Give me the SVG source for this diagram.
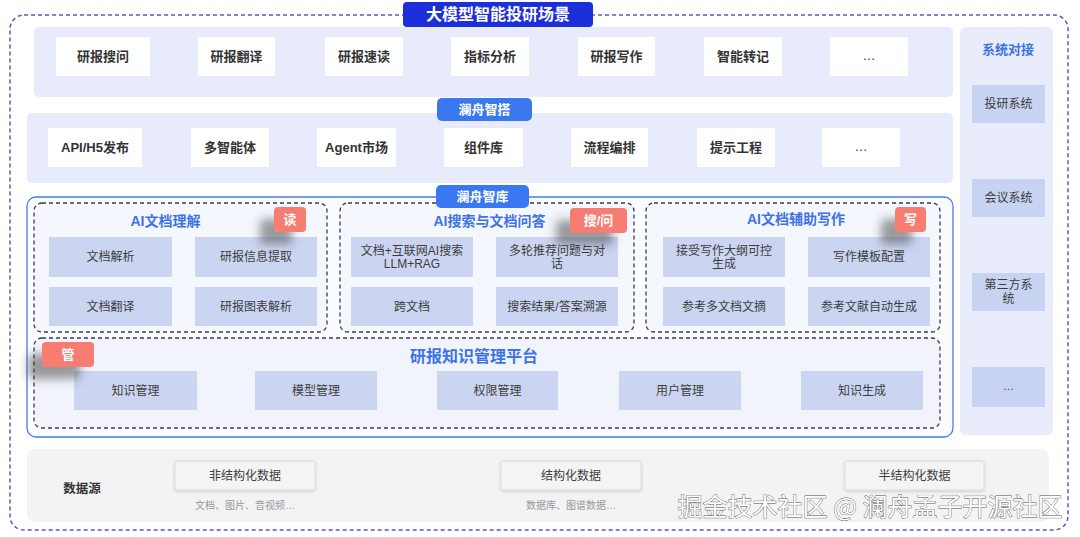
<svg xmlns="http://www.w3.org/2000/svg" width="1080" height="537" viewBox="0 0 1080 537">
<defs>
<style>
text{font-family:"Liberation Sans","Noto Sans CJK SC",sans-serif;text-anchor:middle;dominant-baseline:central}
.band{fill:#e7ebfb}
.wbox{fill:#ffffff}
.t{font-size:13px;font-weight:700;fill:#333}
.item{fill:#cbd5f1}
.it{font-size:12px;fill:#3d3d3d}
.panel{fill:#f5f7fe;stroke:#3c3c44;stroke-width:1.3;stroke-dasharray:4 3}
.ptitle{font-size:14px;font-weight:700;fill:#3e73e6}
.badge{fill:#f77d72}
.bt{fill:#fff;font-weight:700;font-size:13px}
.bluebadge{fill:#3a78f2}
.sys{fill:#c8d2f1}
.dbox{fill:#f4f4f4;stroke:#dcdcdc;stroke-width:1}
.sub{font-size:10px;fill:#9a9a9a}
</style>
<filter id="sh" x="-100%" y="-100%" width="300%" height="300%">
<feDropShadow dx="-14" dy="12" stdDeviation="5" flood-color="#3a3a3a" flood-opacity="0.5"/>
</filter>
<filter id="dsh" x="-20%" y="-30%" width="140%" height="160%">
<feDropShadow dx="0" dy="1" stdDeviation="1.5" flood-color="#000" flood-opacity="0.18"/>
</filter>
</defs>
<rect width="1080" height="537" fill="#ffffff"/>

<!-- outer frame -->
<g id="outer-frame">
<rect x="10" y="15" width="1058" height="515" rx="14" fill="none" stroke="#5b57c8" stroke-width="1.5" stroke-dasharray="4 3"/>
</g>

<!-- Row 1: scenarios -->
<g id="row-scenarios">
<rect class="band" x="34" y="27" width="919" height="70" rx="5"/>
<g id="n-yanbao-souwen"><rect class="wbox" x="56" y="37" width="94" height="39"/><text class="t" x="103" y="56.5">研报搜问</text></g>
<g id="n-yanbao-fanyi"><rect class="wbox" x="198" y="37" width="77" height="39"/><text class="t" x="236.5" y="56.5">研报翻译</text></g>
<g id="n-yanbao-sudu"><rect class="wbox" x="325" y="37" width="78" height="39"/><text class="t" x="364" y="56.5">研报速读</text></g>
<g id="n-zhibiao-fenxi"><rect class="wbox" x="451" y="37" width="78" height="39"/><text class="t" x="490" y="56.5">指标分析</text></g>
<g id="n-yanbao-xiezuo"><rect class="wbox" x="578" y="37" width="77" height="39"/><text class="t" x="616.5" y="56.5">研报写作</text></g>
<g id="n-zhineng-zhuanji"><rect class="wbox" x="704" y="37" width="78" height="39"/><text class="t" x="743" y="56.5">智能转记</text></g>
<g id="n-row1-more"><rect class="wbox" x="830" y="37" width="78" height="39"/><text class="t" x="869" y="55.5" style="font-weight:400">…</text></g>
</g>

<g id="title-badge">
<rect x="403" y="2" width="190" height="25" rx="4" fill="#1d2fd8"/>
<text x="498" y="14.5" style="font-size:16px;font-weight:700;fill:#fff">大模型智能投研场景</text>
</g>

<!-- Row 2: 澜舟智搭 -->
<g id="row-zhida">
<rect class="band" x="27" y="113" width="926" height="70" rx="5"/>
<g id="n-api"><rect class="wbox" x="48" y="128" width="94" height="39"/><text class="t" x="95" y="147.5">API/H5发布</text></g>
<g id="n-duozhinengti"><rect class="wbox" x="191" y="128" width="78" height="39"/><text class="t" x="230" y="147.5">多智能体</text></g>
<g id="n-agent"><rect class="wbox" x="317" y="128" width="79" height="39"/><text class="t" x="356.5" y="147.5">Agent市场</text></g>
<g id="n-zujianku"><rect class="wbox" x="444" y="128" width="79" height="39"/><text class="t" x="483.5" y="147.5">组件库</text></g>
<g id="n-liucheng"><rect class="wbox" x="571" y="128" width="77" height="39"/><text class="t" x="609.5" y="147.5">流程编排</text></g>
<g id="n-tishi"><rect class="wbox" x="697" y="128" width="78" height="39"/><text class="t" x="736" y="147.5">提示工程</text></g>
<g id="n-row2-more"><rect class="wbox" x="822" y="128" width="78" height="39"/><text class="t" x="861" y="146.5" style="font-weight:400">…</text></g>
</g>
<g id="badge-zhida">
<rect class="bluebadge" x="437" y="98" width="95" height="23" rx="5"/>
<text class="bt" x="484.5" y="109.5">澜舟智搭</text>
</g>

<!-- 澜舟智库 frame -->
<g id="zhiku-frame">
<rect x="27" y="197" width="926" height="240" rx="9" fill="#fbfcff" stroke="#4a7be6" stroke-width="1.3"/>
</g>

<!-- Panel 1 -->
<g id="panel-wendang-lijie">
<rect class="panel" x="34" y="203" width="293" height="129" rx="8"/>
<text class="ptitle" x="165.5" y="220.5">AI文档理解</text>
<g id="n-wendang-jiexi"><rect class="item" x="49" y="237" width="123" height="40"/><text class="it" x="110.5" y="257">文档解析</text></g>
<g id="n-xinxi-tiqu"><rect class="item" x="195" y="237" width="122" height="40"/><text class="it" x="256" y="257">研报信息提取</text></g>
<g id="n-wendang-fanyi"><rect class="item" x="49" y="287" width="123" height="39"/><text class="it" x="110.5" y="306.5">文档翻译</text></g>
<g id="n-tubiao-jiexi"><rect class="item" x="195" y="287" width="122" height="39"/><text class="it" x="256" y="306.5">研报图表解析</text></g>
<g id="badge-du"><rect class="badge" x="274" y="207" width="32" height="25" rx="4" filter="url(#sh)"/><text class="bt" x="290" y="219.5">读</text></g>
</g>

<!-- Panel 2 -->
<g id="panel-sousuo-wenda">
<rect class="panel" x="340" y="203" width="294" height="129" rx="8"/>
<text class="ptitle" x="489.5" y="220.5">AI搜索与文档问答</text>
<g id="n-hulianwang"><rect class="item" x="351" y="237" width="122" height="40"/><text class="it" x="412" y="250.5">文档+互联网AI搜索</text><text class="it" x="412" y="264">LLM+RAG</text></g>
<g id="n-duolun"><rect class="item" x="496" y="237" width="122" height="40"/><text class="it" x="557" y="250.5">多轮推荐问题与对</text><text class="it" x="557" y="264">话</text></g>
<g id="n-kuawendang"><rect class="item" x="351" y="287" width="122" height="39"/><text class="it" x="412" y="306.5">跨文档</text></g>
<g id="n-suyuan"><rect class="item" x="496" y="287" width="122" height="39"/><text class="it" x="557" y="306.5">搜索结果/答案溯源</text></g>
<g id="badge-souwen"><rect class="badge" x="570" y="208" width="57" height="25" rx="4" filter="url(#sh)"/><text class="bt" x="598.5" y="220.5">搜/问</text></g>
</g>

<!-- Panel 3 -->
<g id="panel-fuzhu-xiezuo">
<rect class="panel" x="646" y="203" width="294" height="129" rx="8"/>
<text class="ptitle" x="796" y="218.5">AI文档辅助写作</text>
<g id="n-dagang"><rect class="item" x="663" y="237" width="122" height="40"/><text class="it" x="724" y="250.5">接受写作大纲可控</text><text class="it" x="724" y="264">生成</text></g>
<g id="n-moban"><rect class="item" x="808" y="237" width="122" height="40"/><text class="it" x="869" y="257">写作模板配置</text></g>
<g id="n-wenzhai"><rect class="item" x="663" y="287" width="122" height="39"/><text class="it" x="724" y="306.5">参考多文档文摘</text></g>
<g id="n-wenxian"><rect class="item" x="808" y="287" width="122" height="39"/><text class="it" x="869" y="306.5">参考文献自动生成</text></g>
<g id="badge-xie"><rect class="badge" x="895" y="207" width="31" height="25" rx="4" filter="url(#sh)"/><text class="bt" x="910.5" y="219.5">写</text></g>
</g>

<!-- Management platform -->
<g id="panel-guanli">
<rect class="panel" x="34" y="338" width="906" height="90" rx="8" style="fill:#f1f4fd"/>
<text class="ptitle" x="474" y="356.5" style="font-size:16px">研报知识管理平台</text>
<g id="n-zhishi-guanli"><rect class="item" x="74" y="371" width="123" height="39"/><text class="it" x="135.5" y="390.5">知识管理</text></g>
<g id="n-moxing-guanli"><rect class="item" x="255" y="371" width="122" height="39"/><text class="it" x="316" y="390.5">模型管理</text></g>
<g id="n-quanxian-guanli"><rect class="item" x="437" y="371" width="121" height="39"/><text class="it" x="497.5" y="390.5">权限管理</text></g>
<g id="n-yonghu-guanli"><rect class="item" x="619" y="371" width="122" height="39"/><text class="it" x="680" y="390.5">用户管理</text></g>
<g id="n-zhishi-shengcheng"><rect class="item" x="801" y="371" width="122" height="39"/><text class="it" x="862" y="390.5">知识生成</text></g>
<g id="badge-guan"><rect class="badge" x="42" y="342" width="52" height="25" rx="4" filter="url(#sh)"/><text class="bt" x="68" y="354.5">管</text></g>
</g>

<g id="badge-zhiku">
<rect class="bluebadge" x="436" y="185" width="93" height="23" rx="5"/>
<text class="bt" x="482.5" y="196.5">澜舟智库</text>
</g>

<!-- System integration -->
<g id="panel-xitong">
<rect class="band" x="960" y="27" width="93" height="408" rx="6" style="fill:#e9edfb"/>
<text class="ptitle" x="1008" y="49" style="font-size:13px">系统对接</text>
<g id="n-touyan"><rect class="sys" x="972" y="85" width="73" height="38"/><text class="it" x="1008.5" y="104">投研系统</text></g>
<g id="n-huiyi"><rect class="sys" x="972" y="179" width="73" height="38"/><text class="it" x="1008.5" y="198">会议系统</text></g>
<g id="n-disanfang"><rect class="sys" x="972" y="273" width="73" height="38"/><text class="it" x="1008.5" y="285">第三方系</text><text class="it" x="1008.5" y="299">统</text></g>
<g id="n-sys-more"><rect class="sys" x="972" y="367" width="73" height="40"/><text class="it" x="1008.5" y="386" style="font-size:11px">…</text></g>
</g>

<!-- Data source -->
<g id="panel-shujuyuan">
<rect x="27" y="449" width="1022" height="73" rx="8" fill="#f3f3f5"/>
<text x="82" y="489" style="font-size:12.5px;font-weight:700;fill:#333">数据源</text>
<g id="n-feijiegou"><rect class="dbox" x="175" y="461" width="140" height="29" rx="2" filter="url(#dsh)"/><text class="it" x="245" y="475.5">非结构化数据</text><text class="sub" x="245" y="505.5">文档、图片、音视频…</text></g>
<g id="n-jiegou"><rect class="dbox" x="501" y="461" width="140" height="29" rx="2" filter="url(#dsh)"/><text class="it" x="571" y="475.5">结构化数据</text><text class="sub" x="571" y="505.5">数据库、图谱数据…</text></g>
<g id="n-banjiegou"><rect class="dbox" x="845" y="461" width="139" height="29" rx="2" filter="url(#dsh)"/><text class="it" x="914.5" y="475.5">半结构化数据</text></g>
</g>

<g id="connectors"></g>

<g id="watermark">
<text x="870" y="505" style="font-family:'Noto Sans CJK SC',sans-serif;font-size:25px;fill:#ffffff;stroke:#555;stroke-width:0.8;paint-order:stroke">掘金技术社区 @ 澜舟孟子开源社区</text>
</g>
</svg>
